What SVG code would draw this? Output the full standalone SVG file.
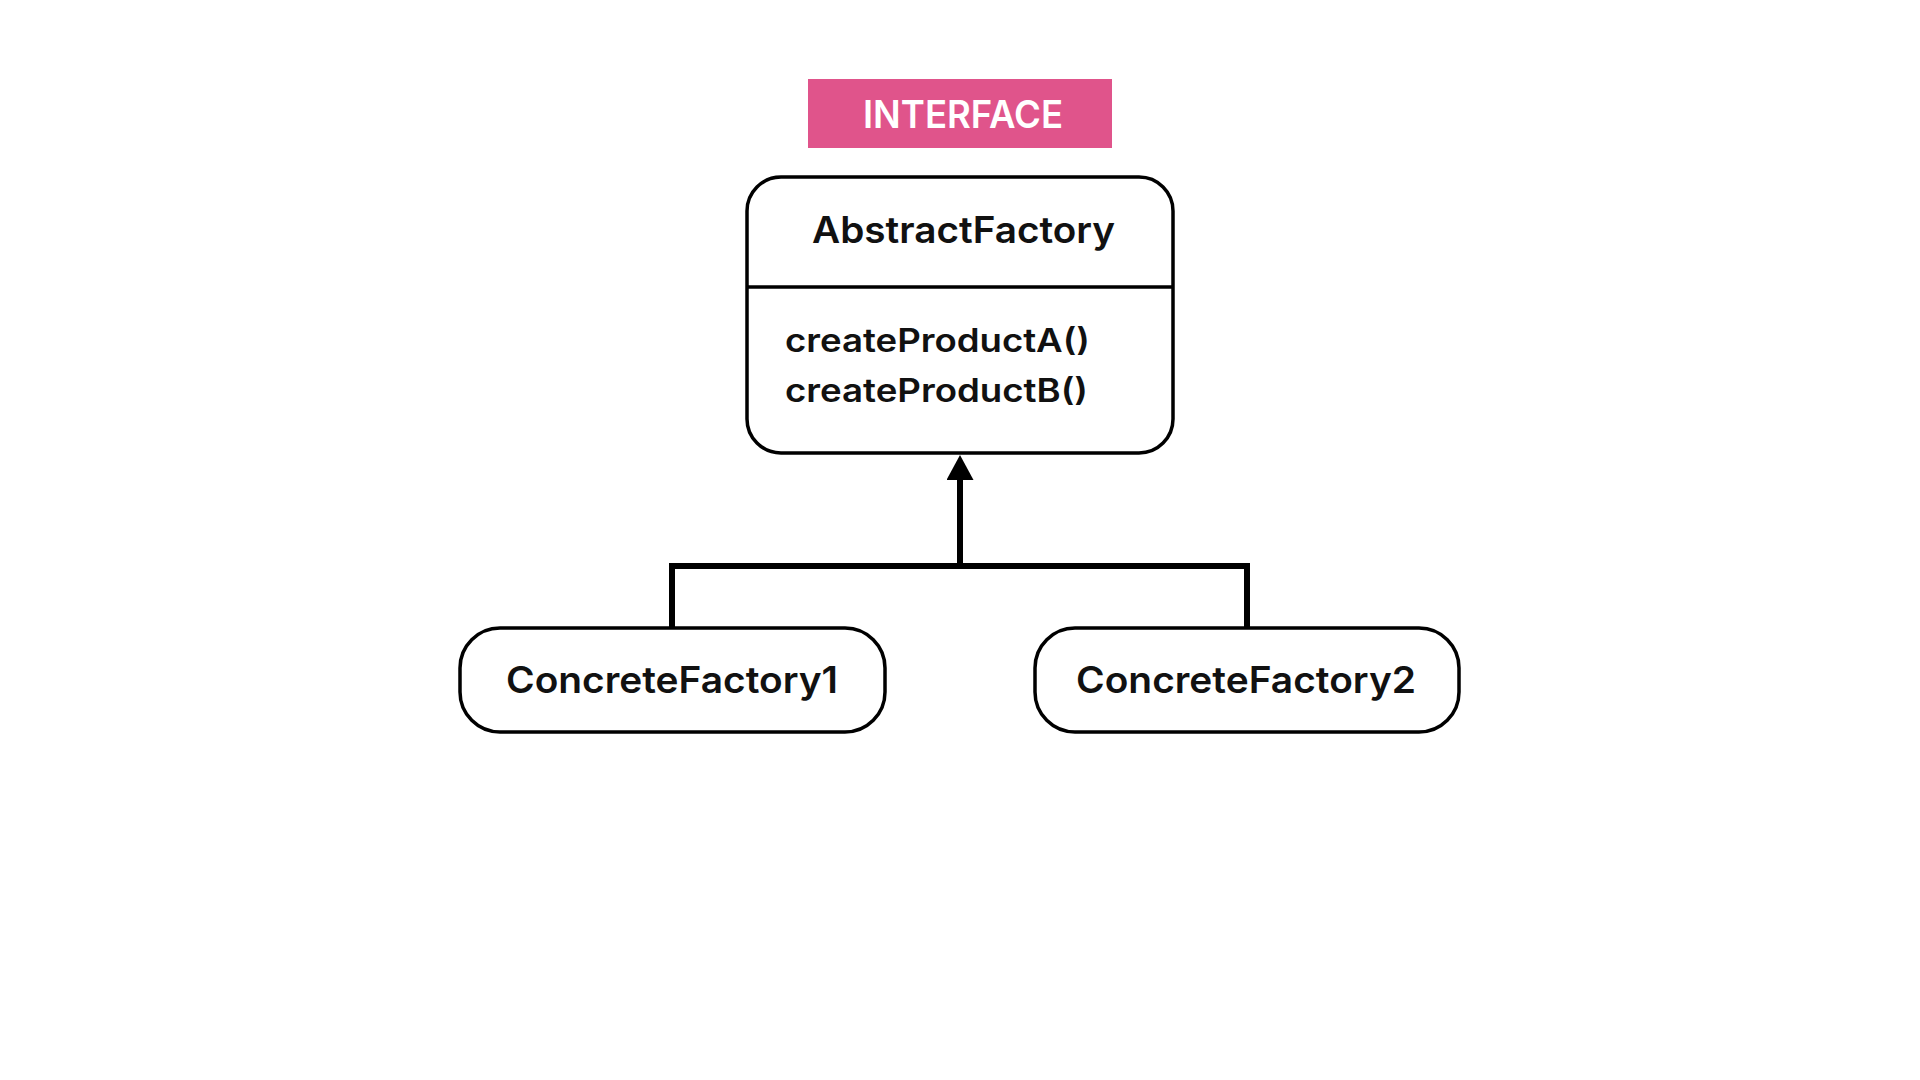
<svg xmlns="http://www.w3.org/2000/svg" width="1920" height="1080" viewBox="0 0 1920 1080">
  <style>
    .box { fill: #ffffff; stroke: #000000; stroke-width: 3.5; }
    .div { stroke: #000000; stroke-width: 3.5; }
    .lbl { font-family: Inter, "Noto Sans", "Liberation Sans", sans-serif; font-weight: 600; fill: #111111; }
    .tag { font-family: Inter, "Noto Sans", "Liberation Sans", sans-serif; font-weight: 600; fill: #ffffff; }
    .conn { fill: none; stroke: #000000; stroke-width: 6; stroke-linejoin: miter; }
  </style>
  <defs>
    <marker id="arrow" viewBox="0 0 25 27" refX="0" refY="13.5" markerWidth="25" markerHeight="27" markerUnits="userSpaceOnUse" orient="auto">
      <path d="M0,0 L25,13.5 L0,27 Z" fill="#000000"/>
    </marker>
  </defs>
  <rect width="1920" height="1080" fill="#ffffff"/>

  <g id="interface-tag">
    <rect x="808" y="79" width="304" height="69" fill="#e0548b"/>
    <text class="tag" x="963" y="128" font-size="38" text-anchor="middle" textLength="200" lengthAdjust="spacingAndGlyphs">INTERFACE</text>
  </g>

  <g id="abstract-factory">
    <rect class="box" x="747" y="177" width="426" height="276" rx="34" ry="34"/>
    <line class="div" x1="747" y1="287" x2="1173" y2="287"/>
    <text class="lbl" x="963.5" y="243" font-size="37" text-anchor="middle" textLength="303" lengthAdjust="spacingAndGlyphs">AbstractFactory</text>
    <text class="lbl" x="785" y="352" font-size="32" textLength="305" lengthAdjust="spacingAndGlyphs">createProductA()</text>
    <text class="lbl" x="785" y="402" font-size="32" textLength="303" lengthAdjust="spacingAndGlyphs">createProductB()</text>
  </g>

  <g id="concrete-factory-1">
    <rect class="box" x="460" y="628" width="425" height="104" rx="40" ry="40"/>
    <text class="lbl" x="672" y="693" font-size="37" text-anchor="middle" textLength="332" lengthAdjust="spacingAndGlyphs">ConcreteFactory1</text>
  </g>

  <g id="concrete-factory-2">
    <rect class="box" x="1035" y="628" width="424" height="104" rx="40" ry="40"/>
    <text class="lbl" x="1246" y="693" font-size="37" text-anchor="middle" textLength="340" lengthAdjust="spacingAndGlyphs">ConcreteFactory2</text>
  </g>

  <g id="connectors">
    <path class="conn" d="M672,628 V566 H1247 V628"/>
    <path class="conn" d="M960,566 V480" marker-end="url(#arrow)"/>
  </g>
</svg>
